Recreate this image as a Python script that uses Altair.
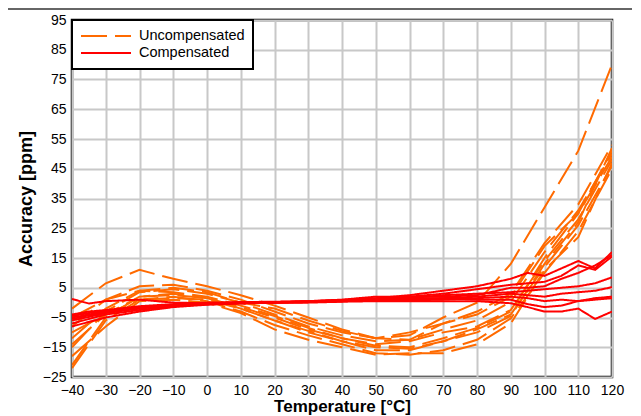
import altair as alt
import pandas as pd

# Temperature grid (°C)
X_U = [-40, -30, -20, -10, 0, 10, 20, 30, 40, 50, 60, 70, 80, 90, 100, 110, 120]
X_C = [-40, -35, -30, -20, -10, 0, 10, 20, 30, 40, 50, 60, 70, 80, 90, 95, 100, 105, 110, 115, 120]

# Uncompensated accuracy curves (ppm)
U1 = [-2, 6.5, 11, 8, 5.5, 2.5, -1, -5, -9, -12, -11, -5, 0, 13, 32, 51, 80]
U2 = [-8, 1, 5.5, 6, 4, 1, -3, -7, -10, -12, -10, -7, -3, 3, 20, 33, 53]
U3 = [-15, -3, 3.5, 4.5, 3, 0, -4, -8, -11, -13, -12.5, -9, -6, 0.3, 17, 31, 50]
U4 = [-21, -5, 2, 2.5, 1.5, -1.5, -5, -9, -12, -14, -13, -10, -8, -2.5, 14, 28, 48]
U5 = [-22, -6, 1, 1.5, 1, -2, -6, -10, -13, -16, -16, -13, -9, -4, 12, 26, 46]
U6 = [-12, -2, 4, 3.5, 2, -1, -4.5, -8.5, -12, -14.5, -15, -12, -8.5, -3, 15, 30, 51]
U7 = [-10, -4, 1, 2, 0.5, -3, -7.5, -11, -14, -17, -17.5, -16, -12.5, -5.3, 10, 24, 45]
U8 = [-18, -8, 0.5, 1, 0, -3.5, -9, -12.5, -15, -17.5, -17, -17, -14, -7, 11, 22, 47]
U9 = [-5, 1, 4, 5, 3.5, 0, -2, -6, -9.5, -12, -12.5, -7, -4, 2, 19, 30, 49]
U10 = [-14, -4, 2, 3, 1.5, -2, -6, -9.5, -13, -15, -15.5, -13, -10, -4.5, 13, 27, 52]

# Compensated accuracy curves (ppm)
C1 = [-5, -4, -3, -1.5, -0.8, -0.3, 0, 0, 0.3, 0.8, 1.5, 2.5, 4, 5.5, 8, 10, 9, 11.5, 14, 11.5, 17]
C2 = [-6, -4.8, -3.5, -2, -1, -0.5, 0, 0.2, 0.5, 1, 2, 2, 3, 4.5, 6, 6.5, 7, 9, 12.5, 11, 15.5]
C3 = [-4, -3, -2.5, -1.2, -0.5, 0, 0.2, 0.3, 0.5, 0.8, 1, 1.5, 2.5, 3, 3.5, 4, 4.5, 5, 5.5, 6.5, 8.5]
C4 = [-7, -5.5, -4, -2.5, -1.2, -0.6, -0.2, 0, 0.2, 0.5, 0.8, 1, 1.5, 2, 3, 2.5, 2, 3, 3.5, 4, 5.2]
C5 = [1.2, -0.3, 0.5, 1, 0, -0.2, 0, 0.2, 0.3, 0.5, 0.8, 0.8, 1, 1.5, 2, 1.5, 0.5, 1, 0.5, 1, 1.5]
C6 = [-4.5, -3.5, -2.8, -1.5, -0.8, -0.3, 0, 0, 0, 0.3, 0.5, 0.5, 0.5, 0.5, -0.2, -1.5, -3, -3, -2, -5.5, -3]
C7 = [-8, -6.5, -5, -3, -1.5, -0.7, -0.3, 0, 0.2, 0.5, 1, 1.5, 1.5, 1, 1, -0.5, -1.5, -1, 0.5, 1.5, 2]
C8 = [-5.5, -4.3, -3.2, -1.8, -0.9, -0.4, -0.1, 0.1, 0.4, 0.9, 1.3, 2, 2, 2.5, 5, 5, 5.5, 8, 10, 12.5, 16]

SERIES_U = [U1, U2, U3, U4, U5, U6, U7, U8, U9, U10]
SERIES_C = [C1, C2, C3, C4, C5, C6, C7, C8]
TYPES = ["Uncompensated", "Compensated"]
X_TICKS = list(range(-40, 121, 10))
Y_TICKS = list(range(-25, 96, 10))

rows = []
for i, s in enumerate(SERIES_U):
    for x, y in zip(X_U, s):
        rows.append({"t": x, "acc": y, "series": f"U{i+1}", "type": TYPES[0]})
for i, s in enumerate(SERIES_C):
    for x, y in zip(X_C, s):
        rows.append({"t": x, "acc": y, "series": f"C{i+1}", "type": TYPES[1]})
df = pd.DataFrame(rows)

leg = alt.Legend(title=None, orient="top-left", offset=0, symbolType="stroke", clipHeight=16)

lines = alt.Chart(df).mark_line(strokeWidth=2, clip=True).encode(
    x=alt.X("t:Q", scale=alt.Scale(domain=[-40, 120], nice=False),
            axis=alt.Axis(values=X_TICKS, title="Temperature [°C]", format="d",
                          labelOverlap=False, labelFlush=False)),
    y=alt.Y("acc:Q", scale=alt.Scale(domain=[-25, 95], nice=False),
            axis=alt.Axis(values=Y_TICKS, title="Accuracy [ppm]", format="d",
                          labelOverlap=False, labelFlush=False)),
    color=alt.Color("type:N", scale=alt.Scale(domain=TYPES, range=["#FF6A00", "#FF0000"]), legend=leg),
    strokeDash=alt.StrokeDash("type:N", scale=alt.Scale(domain=TYPES, range=[[26, 8], [1, 0]]), legend=leg),
    detail="series:N",
    order=alt.Order("t:Q"),
)

topline = alt.Chart(pd.DataFrame({"v": [0]})).mark_rule(color="#333333", strokeWidth=1.5).encode(
    x=alt.value(-64), x2=alt.value(560), y=alt.value(-11)
)

chart = alt.layer(lines, topline).properties(
    width=540, height=357,
    autosize=alt.AutoSizeParams(type="none"),
    padding={"left": 64, "top": 12, "right": 20, "bottom": 40},
).configure_view(
    stroke="black", strokeWidth=2.5
).configure_axis(
    grid=True, gridColor="#C8C8C8", gridWidth=2, domain=False, ticks=False,
    labelFont="Liberation Sans", labelFontSize=14, labelColor="black", labelPadding=6,
    titleFont="Liberation Sans", titleFontSize=18, titleFontWeight="bold", titleColor="black",
).configure_axisY(titlePadding=7).configure_axisX(titlePadding=1, titleFontSize=17).configure_legend(
    labelFont="Liberation Sans", labelFontSize=14.5, labelColor="black",
    symbolSize=2500, symbolStrokeWidth=2, labelOffset=7,
    strokeColor="black", strokeWidth=2, padding=8, rowPadding=1, fillColor="white",
)

chart.save("out.html", embed_options={"renderer": "svg", "actions": False})
